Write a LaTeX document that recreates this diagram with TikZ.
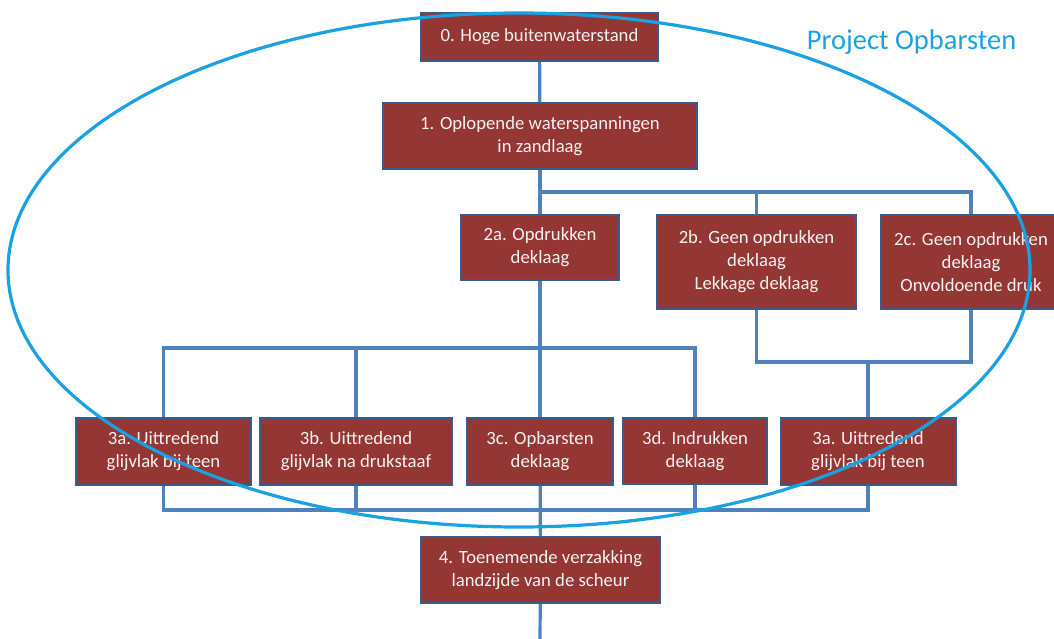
\documentclass[tikz,border=0pt]{standalone}
\usepackage{fontspec}
\setmainfont{Carlito}
\definecolor{boxred}{HTML}{943634}
\definecolor{boxedge}{HTML}{385D8A}
\definecolor{linkblue}{HTML}{4F81BD}
\definecolor{ovalblue}{HTML}{1BA1E2}
\begin{document}
\begin{tikzpicture}[x=1pt, y=-1pt,
    stap/.style={draw=boxedge, line width=2pt, fill=boxred, text=white!95!black,
        align=center, inner sep=0pt, font=\fontsize{18.7}{23}\selectfont},
    link/.style={draw=linkblue, line width=3.2pt},
    oval/.style={draw=ovalblue, line width=3.2pt}]
    \useasboundingbox (0,0) rectangle (1054,639);

    % Steps of the failure path
    \node[stap, minimum width=237pt, minimum height=48pt] (b0) at (539.5,37) {0. Hoge buitenwaterstand};
    \node[stap, minimum width=314pt, minimum height=66pt] (b1) at (540,136) {1. Oplopende waterspanningen\\in zandlaag};
    \node[stap, minimum width=158pt, minimum height=65pt] (b2a) at (540,247.5) {2a. Opdrukken\\deklaag};
    \node[stap, minimum width=199pt, minimum height=94pt] (b2b) at (756.5,262) {2b. Geen opdrukken\\deklaag\\Lekkage deklaag};
    \node[stap, minimum width=180pt, minimum height=94pt] (b2c) at (971,262) {2c. Geen opdrukken\\deklaag\\Onvoldoende druk};
    \node[stap, minimum width=175pt, minimum height=67pt] (b3a) at (163.5,451.5) {3a. Uittredend\\glijvlak bij teen};
    \node[stap, minimum width=192pt, minimum height=67pt] (b3b) at (356,451.5) {3b. Uittredend\\glijvlak na drukstaaf};
    \node[stap, minimum width=146pt, minimum height=67pt] (b3c) at (540,451.5) {3c. Opbarsten\\deklaag};
    \node[stap, minimum width=144pt, minimum height=66pt] (b3d) at (695,451) {3d. Indrukken\\deklaag};
    \node[stap, minimum width=175pt, minimum height=67pt] (b3e) at (868,451.5) {3a. Uittredend\\glijvlak bij teen};
    \node[stap, minimum width=239pt, minimum height=66pt] (b4) at (540.5,570) {4. Toenemende verzakking\\landzijde van de scheur};

    % Junctions
    \coordinate (j1) at (540,192);
    \coordinate (j2) at (540,348);
    \coordinate (j3) at (868,362);
    \coordinate (j4) at (540,510);
    \coordinate (eind) at (540,639);

    % Connectors
    \draw[link] (b0) -- (b1);
    \draw[link] (b1) -- (b2a);
    \draw[link] (j1) -| (b2b.north);
    \draw[link] (j1) -| (b2c.north);
    \draw[link] (b2a) -- (b3c);
    \draw[link] (j2) -| (b3a.north);
    \draw[link] (j2) -| (b3b.north);
    \draw[link] (j2) -| (b3d.north);
    \draw[link] (b2b.south) |- (j3);
    \draw[link] (b2c.south) |- (j3);
    \draw[link] (j3) -- (b3e.north);
    \draw[link] (b3a.south) |- (j4);
    \draw[link] (b3b.south) |- (j4);
    \draw[link] (b3d.south) |- (j4);
    \draw[link] (b3e.south) |- (j4);
    \draw[link] (b3c) -- (b4);
    \draw[link] (b4) -- (eind);

    % Project boundary
    \draw[oval] (519,270) ellipse [x radius=511, y radius=257];
    \node[text=ovalblue, font=\fontsize{28.5}{32}\selectfont] (titel) at (911.5,42) {Project Opbarsten};
\end{tikzpicture}
\end{document}
